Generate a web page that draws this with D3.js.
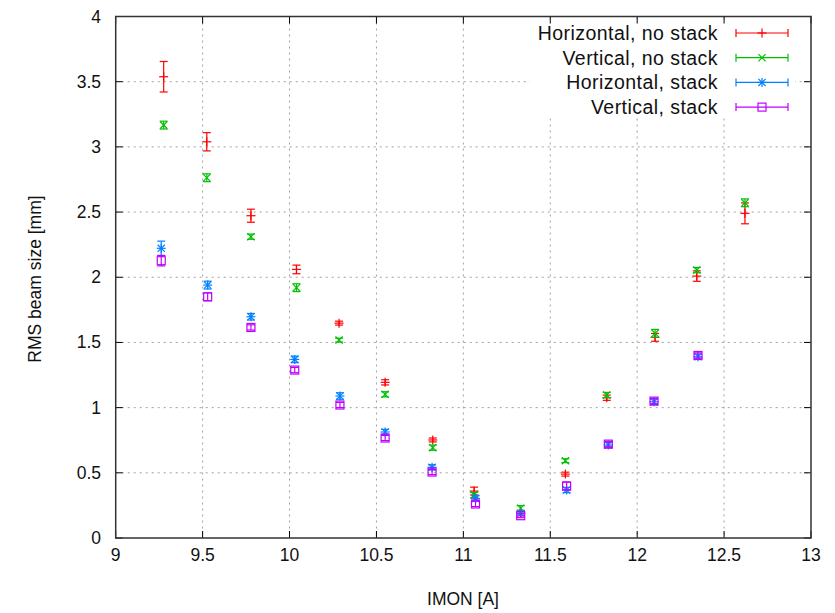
<!DOCTYPE html>
<html>
<head>
<meta charset="utf-8">
<script src="https://cdn.jsdelivr.net/npm/d3@7"></script>
<style>
  html, body { margin: 0; padding: 0; background: #fff; }
  svg { display: block; font-family: "Liberation Sans", Arial, sans-serif; }
</style>
</head>
<body>
<svg id="ch" width="835" height="613"></svg>
<script>
const xNoStack = [9.276, 9.524, 9.778, 10.04, 10.285, 10.55, 10.824, 11.062, 11.33, 11.587, 11.825, 12.103, 12.343, 12.62];
const hNoStack = [3.538, 3.039, 2.472, 2.06, 1.648, 1.194, 0.752, 0.36, 0.19, 0.49, 1.076, 1.539, 2.009, 2.49];
const hNoStackErr = [0.117, 0.07, 0.05, 0.033, 0.015, 0.02, 0.015, 0.03, 0.02, 0.015, 0.02, 0.03, 0.04, 0.08];
const vNoStack = [3.167, 2.763, 2.311, 1.92, 1.518, 1.102, 0.693, 0.33, 0.228, 0.593, 1.097, 1.57, 2.055, 2.571];
const vNoStackErr = [0.03, 0.03, 0.02, 0.03, 0.015, 0.02, 0.02, 0.02, 0.02, 0.015, 0.02, 0.03, 0.02, 0.03];

const xStack = [9.262, 9.529, 9.778, 10.03, 10.29, 10.55, 10.82, 11.07, 11.33, 11.594, 11.834, 12.097, 12.35];
const hStack = [2.222, 1.94, 1.697, 1.37, 1.089, 0.813, 0.542, 0.304, 0.19, 0.368, 0.713, 1.045, 1.39];
const hStackErr = [0.055, 0.03, 0.025, 0.025, 0.025, 0.02, 0.02, 0.02, 0.015, 0.02, 0.02, 0.02, 0.02];
const vStack = [2.127, 1.85, 1.615, 1.288, 1.02, 0.767, 0.506, 0.261, 0.171, 0.399, 0.72, 1.05, 1.4];
const vStackErr = [0.04, 0.03, 0.02, 0.02, 0.02, 0.02, 0.02, 0.02, 0.015, 0.03, 0.02, 0.02, 0.02];

const xTicks = [9, 9.5, 10, 10.5, 11, 11.5, 12, 12.5, 13];
const yTicks = [0, 0.5, 1, 1.5, 2, 2.5, 3, 3.5, 4];

const series = [
  { name: "Horizontal, no stack", x: xNoStack, y: hNoStack, e: hNoStackErr, color: "#ff0000", sym: "plus" },
  { name: "Vertical, no stack", x: xNoStack, y: vNoStack, e: vNoStackErr, color: "#00c000", sym: "cross" },
  { name: "Horizontal, stack", x: xStack, y: hStack, e: hStackErr, color: "#0080ff", sym: "star" },
  { name: "Vertical, stack", x: xStack, y: vStack, e: vStackErr, color: "#c000ff", sym: "square" }
];

const L = 115.7, R = 811, T = 16.5, B = 538;
const svg = d3.select("#ch");
const x = d3.scaleLinear().domain([9, 13]).range([L, R]);
const y = d3.scaleLinear().domain([0, 4]).range([B, T]);

// grid
const grid = svg.append("g").attr("stroke", "#a0a0a0").attr("stroke-width", 1).attr("stroke-dasharray", "2,4");
grid.selectAll(".gx").data(xTicks.slice(1, -1)).enter().append("line")
  .attr("x1", d => x(d)).attr("x2", d => x(d)).attr("y1", T).attr("y2", B);
grid.selectAll(".gy").data(yTicks.slice(1, -1)).enter().append("line")
  .attr("x1", L).attr("x2", R).attr("y1", d => y(d)).attr("y2", d => y(d));

// legend background hides the grid behind it
svg.append("rect").attr("x", 530).attr("y", 19).attr("width", 265).attr("height", 99).attr("fill", "#fff");

// ticks (inward, mirrored)
const tk = svg.append("g").attr("stroke", "#000").attr("stroke-width", 1);
xTicks.forEach(v => {
  tk.append("line").attr("x1", x(v)).attr("x2", x(v)).attr("y1", B).attr("y2", B - 7);
  tk.append("line").attr("x1", x(v)).attr("x2", x(v)).attr("y1", T).attr("y2", T + 7);
});
yTicks.forEach(v => {
  tk.append("line").attr("x1", L).attr("x2", L + 7).attr("y1", y(v)).attr("y2", y(v));
  tk.append("line").attr("x1", R).attr("x2", R - 7).attr("y1", y(v)).attr("y2", y(v));
});
svg.append("rect").attr("x", L).attr("y", T).attr("width", R - L).attr("height", B - T)
  .attr("fill", "none").attr("stroke", "#333").attr("stroke-width", 1.5);

// tick labels
svg.append("g").selectAll("text").data(xTicks).enter().append("text")
  .attr("x", d => x(d)).attr("y", 561).attr("text-anchor", "middle").attr("font-size", 17.5).attr("fill", "#111")
  .text(d => d);
svg.append("g").selectAll("text").data(yTicks).enter().append("text")
  .attr("x", 101).attr("y", d => y(d) + 6).attr("text-anchor", "end").attr("font-size", 17.5).attr("fill", "#111")
  .text(d => d);

svg.append("text").attr("x", 463).attr("y", 605).attr("text-anchor", "middle").attr("font-size", 17.5).attr("fill", "#111").text("IMON [A]");
svg.append("text").attr("transform", "translate(41,279) rotate(-90)").attr("text-anchor", "middle")
  .attr("font-size", 17.5).attr("fill", "#111").text("RMS beam size [mm]");

function symbol(g, kind, cx, cy, color) {
  const s = 4.5;
  const ln = (x1, y1, x2, y2) => g.append("line").attr("x1", x1).attr("y1", y1).attr("x2", x2).attr("y2", y2)
    .attr("stroke", color).attr("stroke-width", 1.2);
  if (kind === "plus" || kind === "star") { ln(cx - s, cy, cx + s, cy); ln(cx, cy - s, cx, cy + s); }
  if (kind === "cross" || kind === "star") { const c = s * 0.8; ln(cx - c, cy - c, cx + c, cy + c); ln(cx - c, cy + c, cx + c, cy - c); }
  if (kind === "square") g.append("rect").attr("x", cx - 4).attr("y", cy - 4).attr("width", 8).attr("height", 8)
    .attr("fill", "none").attr("stroke", color).attr("stroke-width", 1.2);
}

// data with error bars
series.forEach(s => {
  const g = svg.append("g");
  const pts = s.y.map((v, i) => ({ x: s.x[i], y: v, e: s.e[i] }));
  const eg = g.append("g").attr("stroke", s.color).attr("stroke-width", 1.2);
  pts.forEach(p => {
    const px = x(p.x), y1 = y(p.y - p.e), y2 = y(p.y + p.e);
    eg.append("line").attr("x1", px).attr("x2", px).attr("y1", y1).attr("y2", y2);
    eg.append("line").attr("x1", px - 4).attr("x2", px + 4).attr("y1", y1).attr("y2", y1);
    eg.append("line").attr("x1", px - 4).attr("x2", px + 4).attr("y1", y2).attr("y2", y2);
    symbol(g, s.sym, px, y(p.y), s.color);
  });
});

// legend
series.forEach((s, i) => {
  const ly = 33 + i * 24.7;
  svg.append("text").attr("x", 718).attr("y", ly + 7).attr("text-anchor", "end").attr("font-size", 19.5)
    .attr("letter-spacing", 0.45).attr("fill", "#111").text(s.name);
  const g = svg.append("g").attr("stroke", s.color).attr("stroke-width", 1.2);
  g.append("line").attr("x1", 736).attr("x2", 788).attr("y1", ly).attr("y2", ly);
  g.append("line").attr("x1", 736).attr("x2", 736).attr("y1", ly - 4).attr("y2", ly + 4);
  g.append("line").attr("x1", 788).attr("x2", 788).attr("y1", ly - 4).attr("y2", ly + 4);
  symbol(svg.append("g"), s.sym, 762, ly, s.color);
});
</script>
</body>
</html>
